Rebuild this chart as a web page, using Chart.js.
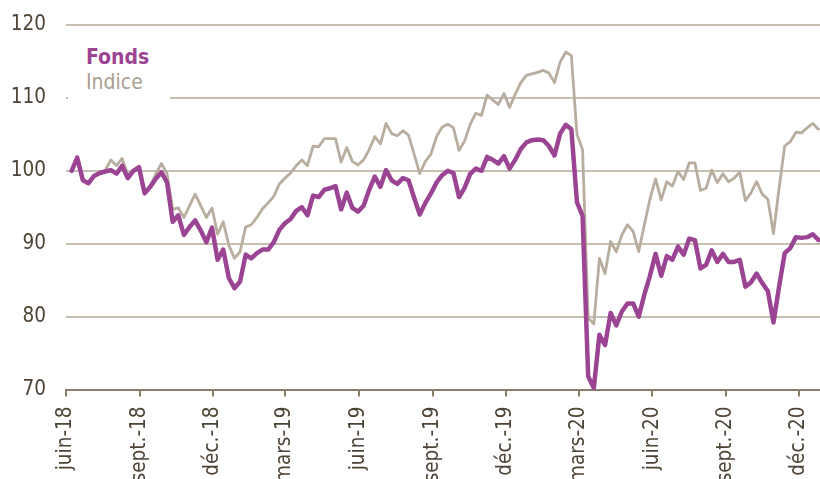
<!DOCTYPE html>
<html>
<head>
<meta charset="utf-8">
<script src="https://cdn.jsdelivr.net/npm/chart.js@4.4.1/dist/chart.umd.min.js"></script>
<style>
html, body { margin: 0; padding: 0; background: #ffffff; overflow: hidden; }
#wrap { position: relative; width: 820px; height: 479px; }
#legend {
  position: absolute; left: 68px; top: 38px; width: 102px; height: 64px;
  background: #ffffff; box-sizing: border-box; padding-left: 18px; padding-top: 7px;
  font-family: "DejaVu Sans Condensed", "DejaVu Sans", sans-serif; font-size: 21px; line-height: 25px;
}
#legend .f { color: #9b4493; font-weight: bold; }
#legend .i { color: #a99f92; }
</style>
</head>
<body>
<div id="wrap">
  <canvas id="c" width="820" height="479"></canvas>
  <div id="legend"><div class="f">Fonds</div><div class="i">Indice</div></div>
</div>
<script>
// Quarter tick labels and their positions (days since 1 June 2018)
const tickLabels = ['juin-18','sept.-18','déc.-18','mars-19','juin-19','sept.-19','déc.-19','mars-20','juin-20','sept.-20','déc.-20'];
const tickDays = [0, 92, 183, 273, 365, 457, 548, 639, 731, 823, 914];

// Weekly observations (Fridays), first one on 8 June 2018
const firstDay = 7;
const stepDays = 7;

const fonds = [
  100.0, 101.8, 98.7, 98.3, 99.3, 99.7, 99.9, 100.1, 99.6, 100.7,
  99.0, 100.0, 100.5, 96.9, 97.8, 98.9, 99.8, 98.4, 93.0, 93.9,
  91.2, 92.3, 93.2, 91.8, 90.2, 92.2, 87.8, 89.2, 85.3, 83.9,
  84.8, 88.5, 88.0, 88.7, 89.2, 89.2, 90.2, 91.9, 92.8, 93.4,
  94.5, 95.0, 93.9, 96.6, 96.4, 97.4, 97.6, 97.9, 94.7, 97.0,
  94.9, 94.4, 95.2, 97.4, 99.2, 97.8, 100.1, 98.7, 98.2, 99.0,
  98.7, 96.3, 94.0, 95.6, 96.9, 98.4, 99.4, 100.0, 99.7, 96.4,
  97.7, 99.6, 100.3, 100.0, 101.9, 101.5, 101.0, 102.0, 100.3, 101.5,
  103.0, 103.9, 104.2, 104.3, 104.2, 103.4, 102.1, 105.1, 106.3, 105.7,
  95.7, 93.8, 71.8, 70.2, 77.5, 76.1, 80.5, 78.8, 80.7, 81.8,
  81.8, 80.0, 83.0, 85.6, 88.6, 85.6, 88.3, 87.8, 89.6, 88.5,
  90.7, 90.5, 86.6, 87.1, 89.1, 87.5, 88.6, 87.5, 87.5, 87.8,
  84.1, 84.7, 85.9, 84.6, 83.5, 79.2, 84.1, 88.7, 89.4, 90.9,
  90.8, 90.9, 91.3, 90.5
];

const indice = [
  100.0, 101.9, 98.9, 98.2, 99.3, 99.6, 100.1, 101.5, 100.7, 101.7,
  99.5, 99.9, 100.4, 97.0, 97.9, 99.6, 101.0, 99.6, 94.7, 94.9,
  93.6, 95.2, 96.8, 95.2, 93.6, 94.9, 91.3, 93.0, 89.8, 88.0,
  88.9, 92.3, 92.6, 93.6, 94.8, 95.6, 96.5, 98.2, 99.0, 99.7,
  100.7, 101.5, 100.7, 103.4, 103.3, 104.4, 104.4, 104.4, 101.2, 103.2,
  101.3, 100.8, 101.5, 102.9, 104.7, 103.7, 106.5, 105.1, 104.8, 105.5,
  104.9, 102.3, 99.6, 101.3, 102.3, 104.7, 106.0, 106.4, 105.9, 102.8,
  104.1, 106.4, 107.9, 107.6, 110.4, 109.7, 109.1, 110.6, 108.7, 110.5,
  112.1, 113.1, 113.3, 113.5, 113.8, 113.4, 112.1, 114.9, 116.3, 115.8,
  105.0, 102.9, 79.8, 79.0, 88.0, 85.9, 90.3, 88.9, 91.2, 92.6,
  91.7, 88.9, 92.6, 96.1, 98.9, 96.0, 98.5, 97.9, 99.9, 98.8,
  101.1, 101.1, 97.3, 97.6, 100.1, 98.4, 99.6, 98.5, 99.0, 99.8,
  95.9, 97.0, 98.5, 96.8, 96.1, 91.4, 97.6, 103.4, 104.0, 105.3,
  105.2, 105.9, 106.5, 105.7
];

const yTicks = [70, 80, 90, 100, 110, 120];

const FONT = '"DejaVu Sans Condensed", "DejaVu Sans", sans-serif';
const TEXT = '#4e4436';
const AXIS = '#8b7f6b';
const GRID = '#c8bfb3';

const toPoints = (vals) => vals.map((v, i) => ({ x: firstDay + stepDays * i, y: v }));

new Chart(document.getElementById('c'), {
  type: 'line',
  data: {
    datasets: [
      { label: 'Fonds', data: toPoints(fonds), borderColor: '#9b4493', borderWidth: 4.5,
        pointRadius: 0, tension: 0, borderJoinStyle: 'round', borderCapStyle: 'round' },
      { label: 'Indice', data: toPoints(indice), borderColor: '#b8ad9f', borderWidth: 2.8,
        pointRadius: 0, tension: 0, borderJoinStyle: 'round', borderCapStyle: 'round' }
    ]
  },
  options: {
    responsive: false,
    animation: false,
    devicePixelRatio: 1,
    layout: { padding: { top: 25, right: 0, bottom: 0, left: 0 } },
    plugins: { legend: { display: false }, tooltip: { enabled: false } },
    scales: {
      x: {
        type: 'linear', min: 0, max: 940,
        afterBuildTicks: (s) => { s.ticks = tickDays.map(v => ({ value: v })); },
        afterFit: (s) => { s.height = 479 - 389.5; s.paddingLeft = 0; s.paddingRight = 0; },
        ticks: {
          autoSkip: false, minRotation: 90, maxRotation: 90, padding: 10,
          color: TEXT, font: { family: FONT, size: 20.5 },
          callback: (v, i) => tickLabels[i]
        },
        grid: { drawOnChartArea: false, drawTicks: true, tickLength: 7, color: AXIS, lineWidth: 2 },
        border: { display: true, color: AXIS, width: 2 }
      },
      y: {
        type: 'linear', min: 70, max: 120,
        afterBuildTicks: (s) => { s.ticks = yTicks.map(v => ({ value: v })); },
        afterFit: (s) => { s.width = 66; s.paddingTop = 0; s.paddingBottom = 0; },
        ticks: { color: TEXT, padding: 20, font: { family: FONT, size: 20.5 } },
        grid: {
          drawTicks: false, lineWidth: 2,
          color: (ctx) => (ctx.tick && ctx.tick.value === 70) ? 'rgba(0,0,0,0)' : GRID
        },
        border: { display: false }
      }
    }
  }
});
</script>
</body>
</html>
